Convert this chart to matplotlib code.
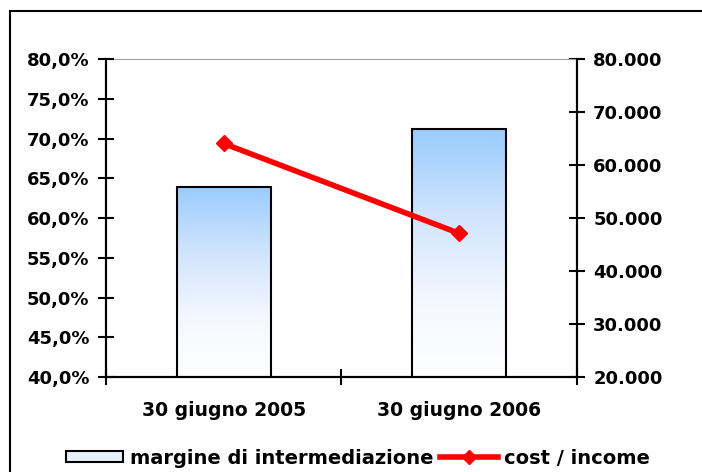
import numpy as np
import matplotlib.pyplot as plt
from matplotlib.patches import Rectangle, Patch
from matplotlib.lines import Line2D
from matplotlib.ticker import FuncFormatter

plt.rcParams['font.family'] = ['DejaVu Sans']
plt.rcParams['font.weight'] = 'bold'

# dati
categorie = ['30 giugno 2005', '30 giugno 2006']
margine = [55900, 66800]          # asse destro
cost_income = [69.4, 58.1]        # asse sinistro, %
tick_sx = [40, 45, 50, 55, 60, 65, 70, 75, 80]
tick_dx = [20000, 30000, 40000, 50000, 60000, 70000, 80000]

fig = plt.figure(figsize=(7.02, 4.72), dpi=100)
fig.patches.append(Rectangle((10 / 702, -0.1), 2, 1.1 - 11 / 472, transform=fig.transFigure,
                             fill=False, edgecolor='black', linewidth=1.5))

ax = fig.add_axes([106 / 702, 1 - 377 / 472, 470.5 / 702, 317.7 / 472])
x = np.arange(len(categorie))

# barre (asse destro)
barre = ax.bar(x, margine, width=0.4, bottom=0, color='none', edgecolor='black', linewidth=1.5, zorder=3)
grad = np.linspace(0, 1, 256).reshape(-1, 1)
cmap = plt.matplotlib.colors.LinearSegmentedColormap.from_list('g', ['#ffffff', '#f2f7ff', '#cfe3fd', '#99ccff'])
for b in barre:
    im = ax.imshow(grad, cmap=cmap, origin='lower', aspect='auto',
                   extent=[b.get_x(), b.get_x() + b.get_width(), 20000, b.get_height()], zorder=2)
    im.set_clip_path(b)
ax.set_ylim(20000, 80000)
ax.set_xlim(-0.5, 1.5)

# linea cost / income (asse sinistro)
ax2 = ax.twinx()
ax2.plot(x, cost_income, color='#ff0000', linewidth=4, marker='D', markersize=8, zorder=5, clip_on=False)
ax2.set_ylim(40, 80)

ax.yaxis.tick_right()
ax2.yaxis.tick_left()

ax.set_yticks(tick_dx)
ax.yaxis.set_major_formatter(FuncFormatter(lambda v, p: f'{int(v):,}'.replace(',', '.')))
ax.set_xticks([-0.5, 0.5, 1.5])
ax.set_xticklabels([])
ax.set_xticks(x, minor=True)
ax.set_xticklabels(categorie, minor=True, fontsize=13.5, fontweight='bold')
ax.tick_params(axis='x', which='major', direction='inout', length=12, width=1.5)
ax.tick_params(axis='x', which='minor', length=0, pad=17)
ax.tick_params(axis='y', direction='inout', length=12, width=1.5, labelsize=13, pad=6)
ax.spines['top'].set_color('#a0a0a0')

ax2.set_yticks(tick_sx)
ax2.yaxis.set_major_formatter(FuncFormatter(lambda v, p: f'{v:.1f}%'.replace('.', ',')))
ax2.tick_params(axis='y', direction='inout', length=12, width=1.5, labelsize=13, pad=6)
ax2.spines['top'].set_visible(False)
for a in (ax, ax2):
    for s in ['left', 'right', 'bottom']:
        a.spines[s].set_linewidth(1.5)

maniglie = [Patch(facecolor='#e6f0fc', edgecolor='black', linewidth=1.5),
            Line2D([0], [0], color='#ff0000', linewidth=4, marker='D', markersize=7)]
fig.legend(maniglie, ['margine di intermediazione', 'cost / income'], loc='center',
           bbox_to_anchor=(358 / 702, 1 - 458 / 472), ncol=2, frameon=False,
           prop={'size': 14, 'weight': 'bold'}, handlelength=2.95, handletextpad=0.35,
           columnspacing=0.35, handleheight=0.5)

fig.savefig('out.png', dpi=100)
